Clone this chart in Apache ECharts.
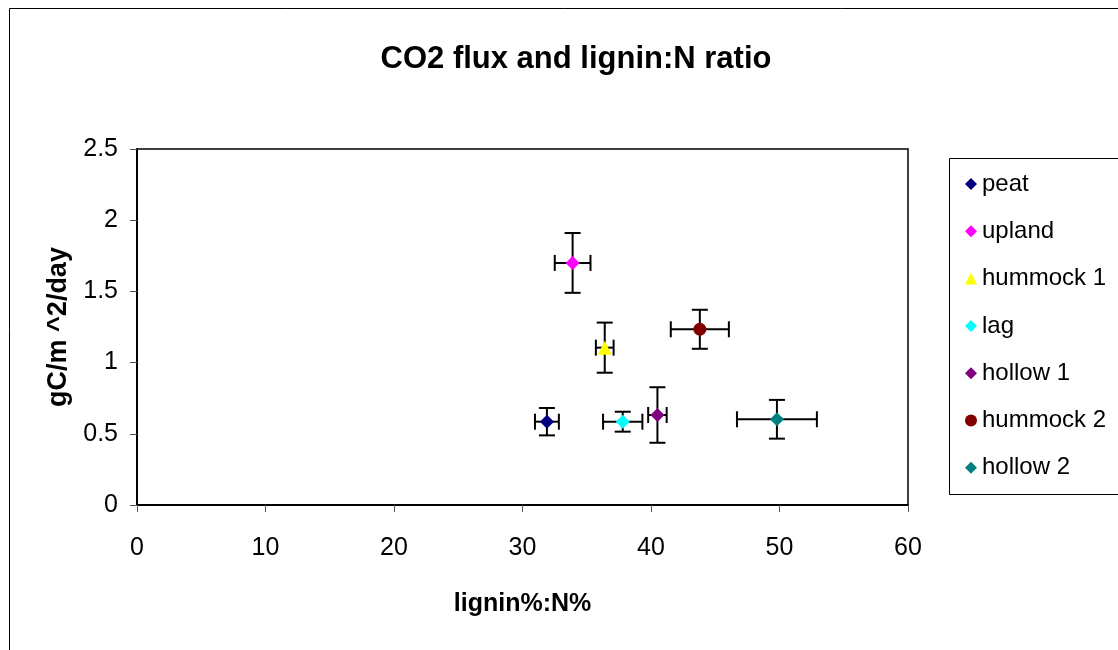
<!DOCTYPE html>
<html>
<head>
<meta charset="utf-8">
<script src="https://cdn.jsdelivr.net/npm/echarts@6/dist/echarts.min.js"></script>
<style>
html, body { margin: 0; padding: 0; background: #fff; }
#chart { width: 1118px; height: 650px; }
</style>
</head>
<body>
<div id="chart"></div>
<script>
// site names, colours and symbols (Excel style)
var sites = ["peat", "upland", "hummock 1", "lag", "hollow 1", "hummock 2", "hollow 2"];
var colors = ["#000080", "#FF00FF", "#FFFF00", "#00FFFF", "#800080", "#800000", "#008080"];
var symbols = ["diamond", "diamond", "triangle", "diamond", "diamond", "circle", "diamond"];

// lignin%:N% and its error
var ligninN = [31.9, 33.9, 36.4, 37.8, 40.5, 43.8, 49.8];
var ligninErr = [0.93, 1.39, 0.69, 1.53, 0.72, 2.26, 3.11];
// CO2 flux gC/m^2/day and its error
var flux = [0.585, 1.70, 1.105, 0.585, 0.632, 1.234, 0.602];
var fluxErr = [0.096, 0.21, 0.176, 0.07, 0.195, 0.137, 0.136];

var xTicks = { min: 0, max: 60, interval: 10 };
var yTicks = { min: 0, max: 2.5, interval: 0.5 };

var font = "Liberation Sans, Arial, sans-serif";

/******误差线*********/
function errorBars(params, api) {
	var x = api.value(0), y = api.value(1), ex = api.value(2), ey = api.value(3);
	var c = api.coord([x, y]);
	var l = api.coord([x - ex, y]), r = api.coord([x + ex, y]);
	var t = api.coord([x, y + ey]), b = api.coord([x, y - ey]);
	var cap = 8;
	var st = { stroke: "#000", lineWidth: 2 };
	return {
		type: "group",
		children: [
			{ type: "line", shape: { x1: l[0], y1: c[1], x2: r[0], y2: c[1] }, style: st },
			{ type: "line", shape: { x1: l[0], y1: c[1] - cap, x2: l[0], y2: c[1] + cap }, style: st },
			{ type: "line", shape: { x1: r[0], y1: c[1] - cap, x2: r[0], y2: c[1] + cap }, style: st },
			{ type: "line", shape: { x1: c[0], y1: t[1], x2: c[0], y2: b[1] }, style: st },
			{ type: "line", shape: { x1: c[0] - cap, y1: t[1], x2: c[0] + cap, y2: t[1] }, style: st },
			{ type: "line", shape: { x1: c[0] - cap, y1: b[1], x2: c[0] + cap, y2: b[1] }, style: st }
		]
	};
}

var errData = [];
for (var i = 0; i < sites.length; i++) {
	errData.push([ligninN[i], flux[i], ligninErr[i], fluxErr[i]]);
}

var series = [{
	type: "custom",
	renderItem: errorBars,
	data: errData,
	encode: { x: 0, y: 1 },
	z: 1,
	silent: true
}];
for (var j = 0; j < sites.length; j++) {
	series.push({
		name: sites[j],
		type: "scatter",
		symbol: symbols[j],
		symbolSize: symbols[j] == "circle" ? 13 : 14,
		itemStyle: { color: colors[j], opacity: 1 },
		data: [[ligninN[j], flux[j]]],
		z: 3
	});
}

var option = {
	animation: false,
	backgroundColor: "#fff",
	title: {
		text: "CO2 flux and lignin:N ratio",
		left: 571,
		textAlign: "center",
		top: 39,
		textStyle: { fontFamily: font, fontSize: 31, fontWeight: "bold", color: "#000" }
	},
	graphic: [
		{ type: "rect", shape: { x: 9.5, y: 8.5, width: 1200, height: 700 }, style: { fill: "none", stroke: "#000", lineWidth: 1 }, z: -1 },
		{ type: "rect", shape: { x: 949.5, y: 158.5, width: 250, height: 336 }, style: { fill: "#fff", stroke: "#000", lineWidth: 1 }, z: 0 }
	],
	legend: {
		data: sites,
		orient: "vertical",
		left: 960,
		top: 167,
		itemWidth: 12,
		itemHeight: 12,
		itemGap: 23.3,
		selectedMode: false,
		textStyle: { fontFamily: font, fontSize: 24, color: "#000", lineHeight: 24, padding: [0, 0, 0, 0] }
	},
	grid: {
		left: 137,
		top: 149,
		right: 210,
		bottom: 145,
		show: true,
		borderColor: "#000",
		borderWidth: 1.5,
		backgroundColor: "#fff"
	},
	xAxis: {
		type: "value",
		min: xTicks.min,
		max: xTicks.max,
		interval: xTicks.interval,
		name: "lignin%:N%",
		nameLocation: "middle",
		nameGap: 87,
		nameTextStyle: { fontFamily: font, fontSize: 25, fontWeight: "bold", color: "#000" },
		axisLine: { show: true, onZero: false, lineStyle: { color: "#000", width: 2 } },
		axisTick: { show: true, inside: false, length: 7, lineStyle: { color: "#555" } },
		axisLabel: { margin: 31, fontFamily: font, fontSize: 25, color: "#000" },
		splitLine: { show: false }
	},
	yAxis: {
		type: "value",
		min: yTicks.min,
		max: yTicks.max,
		interval: yTicks.interval,
		name: "gC/m ^2/day",
		nameLocation: "middle",
		nameGap: 63,
		nameTextStyle: { fontFamily: font, fontSize: 27, fontWeight: "bold", color: "#000" },
		axisLine: { show: true, onZero: false, lineStyle: { color: "#000", width: 2 } },
		axisTick: { show: true, inside: false, length: 7, lineStyle: { color: "#555" } },
		axisLabel: { margin: 19, fontFamily: font, fontSize: 25, color: "#000" },
		splitLine: { show: false }
	},
	series: series
};

var myChart = echarts.init(document.getElementById("chart"));
myChart.setOption(option);
</script>
</body>
</html>
